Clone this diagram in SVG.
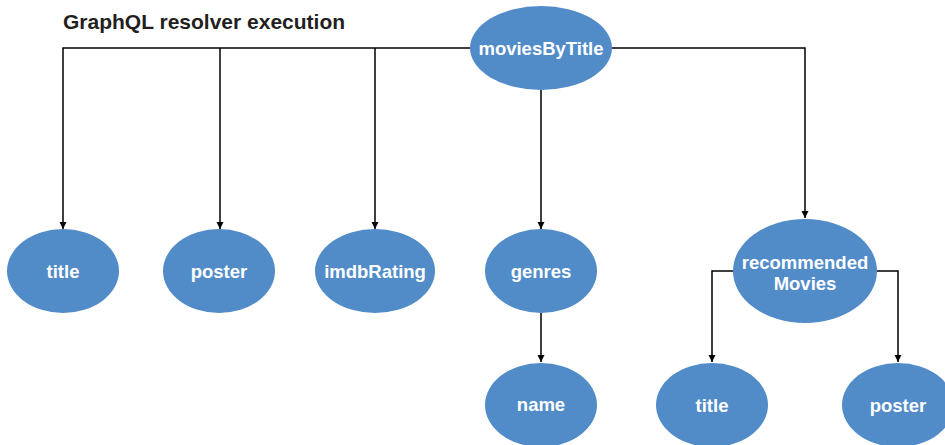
<svg xmlns="http://www.w3.org/2000/svg" width="945" height="445" viewBox="0 0 945 445">
<style>
.node ellipse{fill:#518cc9;}
.node text{font-family:"Liberation Sans",Arial,sans-serif;font-weight:bold;font-size:18.5px;fill:#ffffff;text-anchor:middle;}
.title{font-family:"Liberation Sans",Arial,sans-serif;font-weight:bold;font-size:21px;fill:#231f20;}
.edge{fill:none;stroke:#000;stroke-width:1.5;}
</style>
<defs>
<marker id="arr" viewBox="0 0 10 10" refX="10" refY="5" markerWidth="7" markerHeight="11" markerUnits="userSpaceOnUse" orient="auto">
<path d="M0,0 L10,5 L0,10 Z" fill="#000"/>
</marker>
</defs>
<text class="title" x="63" y="29">GraphQL resolver execution</text>
<g id="connectors">
<path class="edge" d="M470,48 H63 V229" marker-end="url(#arr)"/>
<path class="edge" d="M220,48 V229" marker-end="url(#arr)"/>
<path class="edge" d="M375,48 V229" marker-end="url(#arr)"/>
<path class="edge" d="M541,90 V229" marker-end="url(#arr)"/>
<path class="edge" d="M612,48 H805 V218" marker-end="url(#arr)"/>
<path class="edge" d="M541,313 V362" marker-end="url(#arr)"/>
<path class="edge" d="M733,271 H712 V362" marker-end="url(#arr)"/>
<path class="edge" d="M877,271 H898 V362" marker-end="url(#arr)"/>
</g>
<g id="moviesByTitle" class="node"><ellipse cx="541" cy="48" rx="71" ry="42"/><text x="541" y="55">moviesByTitle</text></g>
<g id="title" class="node"><ellipse cx="63" cy="271" rx="56" ry="42"/><text x="63" y="278">title</text></g>
<g id="poster" class="node"><ellipse cx="219" cy="271" rx="56" ry="42"/><text x="219" y="278">poster</text></g>
<g id="imdbRating" class="node"><ellipse cx="375" cy="271" rx="60" ry="42"/><text x="375" y="278">imdbRating</text></g>
<g id="genres" class="node"><ellipse cx="541" cy="271" rx="56" ry="42"/><text x="541" y="278">genres</text></g>
<g id="recommendedMovies" class="node"><ellipse cx="805" cy="271" rx="72" ry="52"/><text x="805" y="269">recommended</text><text x="805" y="290">Movies</text></g>
<g id="name" class="node"><ellipse cx="541" cy="405" rx="56" ry="42"/><text x="541" y="411">name</text></g>
<g id="title2" class="node"><ellipse cx="712" cy="405" rx="56" ry="42"/><text x="712" y="412">title</text></g>
<g id="poster2" class="node"><ellipse cx="898" cy="405" rx="56" ry="42"/><text x="898" y="412">poster</text></g>
</svg>
